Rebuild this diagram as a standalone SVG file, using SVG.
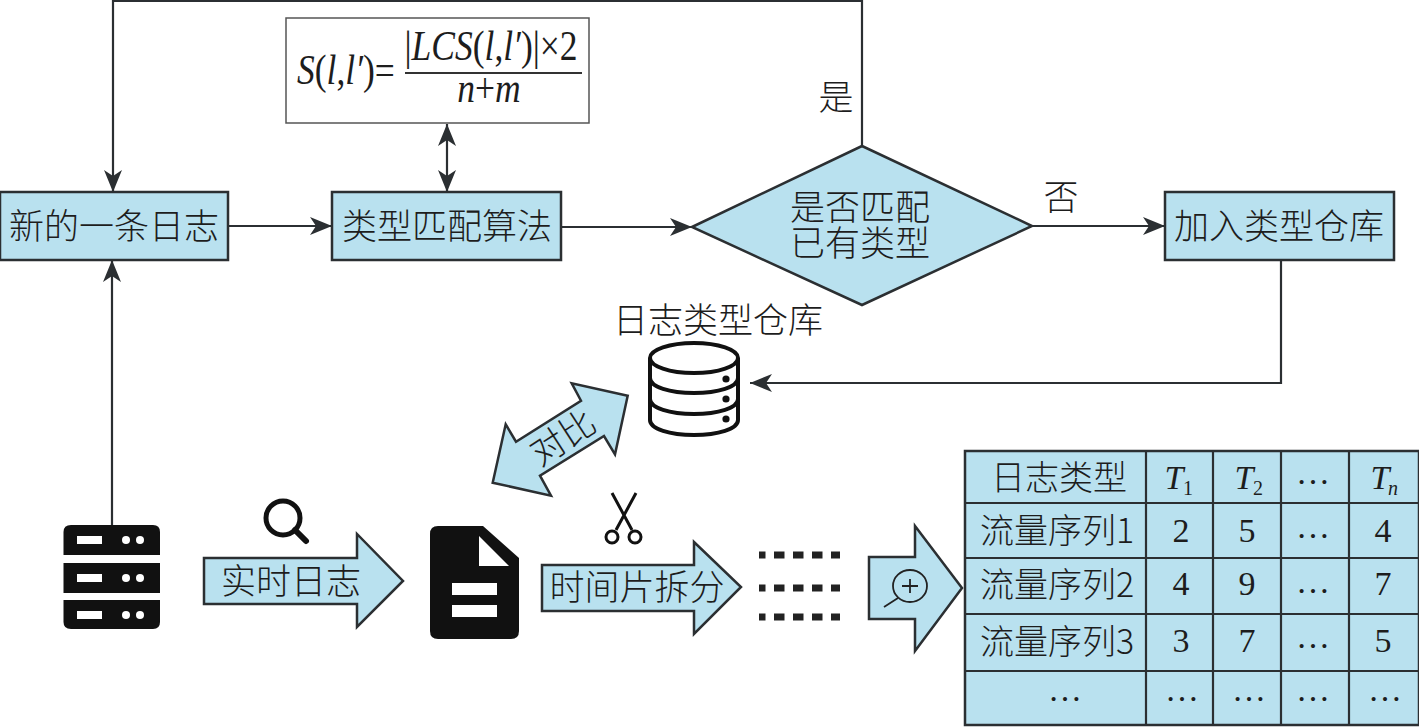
<svg xmlns="http://www.w3.org/2000/svg" width="1419" height="727" viewBox="0 0 1419 727">
<style>
.n{fill:#b9e1ef;stroke:#2b2f32;stroke-width:2.5}
.c{fill:none;stroke:#2b2f32;stroke-width:2.2}
.t{font-family:"Noto Sans CJK SC","Liberation Serif",serif;font-size:35px;font-weight:300;fill:#1d1d1d;text-anchor:middle}
.s{font-size:34px}
.m{font-family:"Liberation Serif","Times New Roman",serif;font-size:34px;fill:#1d1d1d;text-anchor:middle}
.f{font-size:35.500px}
.u{font-size:20px}
.i{font-style:italic}
.k{fill:#111}
.o{fill:none;stroke:#111;stroke-width:4}
</style>
<defs>
<marker id="a" markerUnits="userSpaceOnUse" markerWidth="24" markerHeight="18" refX="22" refY="9" orient="auto-start-reverse"><path d="M0,0L22,9L0,18L6,9Z" fill="#2b2f32"/></marker>
</defs>
<rect width="1419" height="727" fill="#fff"/>
<g id="connectors">
<path class="c" d="M228,226H332" marker-end="url(#a)"/>
<path class="c" d="M561,227H692" marker-end="url(#a)"/>
<path class="c" d="M1032,226H1165" marker-end="url(#a)"/>
<path class="c" d="M862,146V1H113V192" marker-end="url(#a)"/>
<path class="c" d="M112,525V260" marker-end="url(#a)"/>
<path class="c" d="M447,124V192" marker-start="url(#a)" marker-end="url(#a)"/>
<path class="c" d="M1281,260V383H750" marker-end="url(#a)"/>
</g>
<g id="formula">
<rect x="286" y="18" width="303" height="105" fill="#fff" stroke="#555" stroke-width="1.5"/>
<text class="m f" transform="translate(297,84) scale(1,1.18)" style="text-anchor:start"><tspan class="i">S</tspan>(<tspan class="i">l</tspan>,<tspan class="i">l′</tspan>)=</text>
<text class="m f" transform="translate(491,60) scale(1,1.18)">|<tspan class="i">LCS</tspan>(<tspan class="i">l</tspan>,<tspan class="i">l′</tspan>)|×2</text>
<path d="M405,73H582" stroke="#333" stroke-width="2"/>
<text class="m f" transform="translate(489,102) scale(1,1.18)"><tspan class="i">n</tspan>+<tspan class="i">m</tspan></text>
</g>
<g id="new-log"><rect class="n" x="0" y="192" width="228" height="68"/><text class="t" x="114" y="239">新的一条日志</text></g>
<g id="match-algo"><rect class="n" x="332" y="192" width="229" height="68"/><text class="t" x="447" y="239">类型匹配算法</text></g>
<g id="decision"><polygon class="n" points="692,227 862,146 1032,226 862,305"/><text class="t"><tspan x="860" y="220">是否匹配</tspan><tspan x="860" y="256">已有类型</tspan></text></g>
<g id="add-type"><rect class="n" x="1165" y="192" width="229" height="68"/><text class="t" x="1279" y="239">加入类型仓库</text></g>
<g id="labels"><text class="t" x="836" y="110">是</text><text class="t" x="1061" y="210">否</text></g>
<g id="log-repo">
<text class="t" x="718" y="333">日志类型仓库</text>
<path class="o" d="M650,358V420C650,429 670,435 694,435C718,435 738,429 738,420V358"/>
<ellipse class="o" cx="694" cy="358" rx="44" ry="15"/>
<path class="o" d="M650,378C650,387 670,393 694,393C718,393 738,387 738,378M650,399C650,408 670,414 694,414C718,414 738,408 738,399"/>
<circle class="k" cx="726" cy="379" r="3.600"/><circle class="k" cx="726" cy="399" r="3.600"/><circle class="k" cx="726" cy="419" r="3.600"/>
</g>
<g id="compare"><polygon class="n" points="627.700,395.700 571.700,383.300 581,400.700 516,441.700 505.700,424.300 492.700,482.700 551,495.700 540,475.700 604,436 615,454.300"/><text class="t" x="563" y="450" transform="rotate(-33 563 438)">对比</text></g>
<g id="server">
<path class="k" d="M63.500,555V532Q63.500,525 71,525H153Q160,525 160,532V555ZM63.500,563H160V593H63.500ZM63.500,600H160V622Q160,629 153,629H71Q63.500,629 63.500,622Z"/>
<g fill="#fff"><rect x="77" y="536" width="25" height="8"/><circle cx="126" cy="540" r="4"/><circle cx="140" cy="540" r="4"/>
<rect x="77" y="574" width="25" height="8"/><circle cx="126" cy="578" r="4"/><circle cx="140" cy="578" r="4"/>
<rect x="77" y="611" width="25" height="8"/><circle cx="126" cy="615" r="4"/><circle cx="140" cy="615" r="4"/></g>
</g>
<g id="search-icon"><circle cx="283" cy="518" r="17" fill="none" stroke="#111" stroke-width="5"/><path d="M295,530L306,541" stroke="#111" stroke-width="6" stroke-linecap="round"/></g>
<g id="realtime-log"><polygon class="n" points="204,558 357,558 357,534 403,581 357,627 357,604 204,604"/><text class="t" x="291" y="594">实时日志</text></g>
<g id="doc-icon">
<path class="k" d="M438,526H483L519,558V631Q519,639 511,639H438Q430,639 430,631V534Q430,526 438,526Z"/>
<path fill="#fff" d="M479,536L509,566H479Z"/>
<rect x="452" y="583" width="45" height="12" fill="#fff"/><rect x="452" y="605" width="45" height="12" fill="#fff"/>
</g>
<g id="scissors" fill="none" stroke="#111" stroke-width="3"><path d="M612,493L632,530M636,493L616,530"/><circle cx="612" cy="537" r="6"/><circle cx="635" cy="537" r="6"/></g>
<g id="split"><polygon class="n" points="542,565 694,565 694,542 741,587 694,634 694,611 542,611"/><text class="t" x="637" y="600">时间片拆分</text></g>
<g id="dashes" stroke="#222" stroke-width="7" stroke-dasharray="10.500 8.500" stroke-dashoffset="4"><path d="M759,555H840M759,588H840M759,617H840"/></g>
<g id="zoom-arrow"><polygon class="n" points="869,557 915,557 915,526 962,588 915,651 915,619 869,619"/>
<ellipse cx="910" cy="586" rx="17" ry="16" fill="none" stroke="#222" stroke-width="1.800"/><path d="M898,598L884,607M902,586H918M910,579V593" stroke="#222" stroke-width="1.800" fill="none"/></g>
<g id="table">
<rect x="965" y="451" width="454" height="274" fill="#b9e1ef" stroke="#2b2f32" stroke-width="2.500"/>
<path class="c" d="M1146,451V725M1213,451V725M1281,451V725M1349,451V725M965,503H1419M965,558H1419M965,614H1419M965,671H1419"/>
<text class="t s" x="1059" y="490">日志类型</text>
<text class="m i" x="1174" y="489">T</text><text class="m u" x="1188" y="495">1</text>
<text class="m i" x="1244" y="489">T</text><text class="m u" x="1258" y="495">2</text>
<text class="m" x="1313" y="484">…</text>
<text class="m i" x="1380" y="489">T</text><text class="m i u" x="1393" y="495">n</text>
<text class="t s" x="1057" y="543">流量序列1</text><text class="m" x="1181" y="542">2</text><text class="m" x="1247" y="542">5</text><text class="m" x="1313" y="538">…</text><text class="m" x="1383" y="542">4</text>
<text class="t s" x="1057" y="597">流量序列2</text><text class="m" x="1181" y="595">4</text><text class="m" x="1247" y="595">9</text><text class="m" x="1313" y="593">…</text><text class="m" x="1383" y="595">7</text>
<text class="t s" x="1057" y="654">流量序列3</text><text class="m" x="1181" y="652">3</text><text class="m" x="1247" y="652">7</text><text class="m" x="1313" y="648">…</text><text class="m" x="1383" y="652">5</text>
<text class="m" x="1065" y="701">…</text><text class="m" x="1182" y="701">…</text><text class="m" x="1249" y="701">…</text><text class="m" x="1313" y="701">…</text><text class="m" x="1385" y="701">…</text>
</g>
</svg>
